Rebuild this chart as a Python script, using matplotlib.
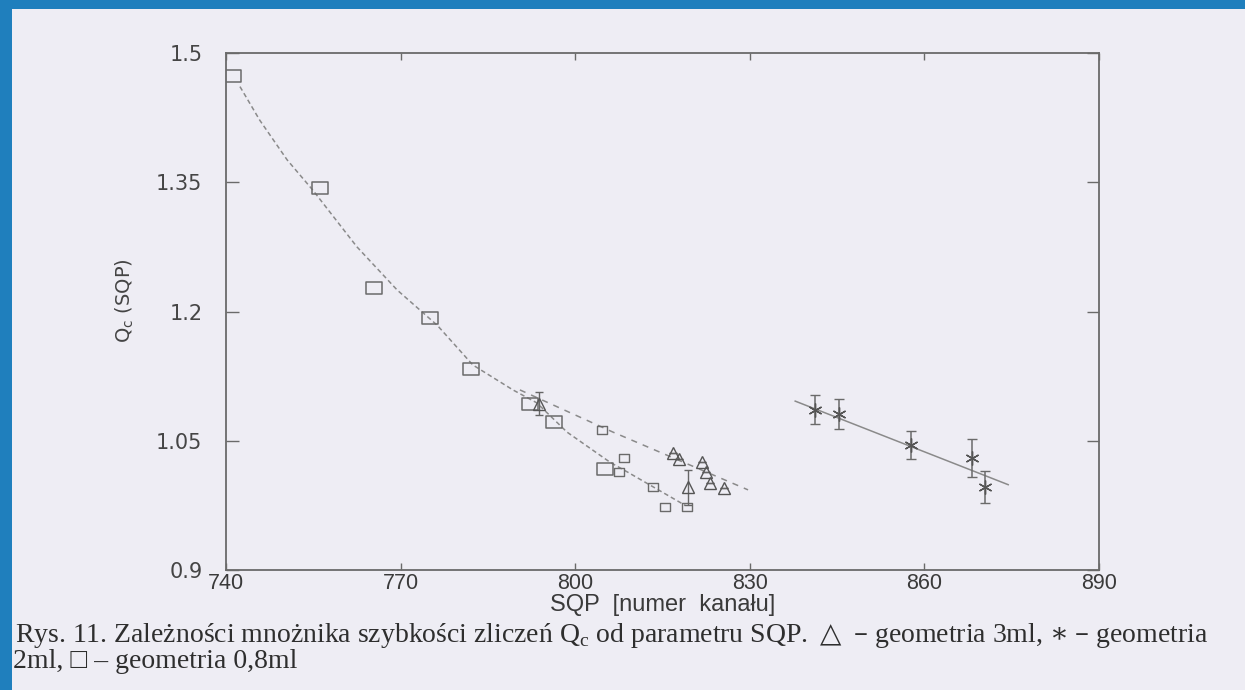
import matplotlib
matplotlib.use("Agg")
import matplotlib.pyplot as plt
from matplotlib.patches import Rectangle
from matplotlib.path import Path

# ---------------- data ----------------
# geometry 0.8 ml, large squares
sq_big_x = [741.2, 756.2, 765.4, 775.1, 782.1, 792.2, 796.3, 805.2]
sq_big_y = [1.473, 1.343, 1.227, 1.192, 1.133, 1.093, 1.072, 1.017]
# geometry 0.8 ml, small squares
sq_small_x = [804.6, 808.4, 807.5, 813.4, 815.4, 819.2]
sq_small_y = [1.062, 1.030, 1.014, 0.996, 0.973, 0.973]
# geometry 3 ml, triangles
tri_x = [793.8, 816.8, 817.8, 821.8, 822.5, 823.2, 825.6, 819.4]
tri_y = [1.093, 1.036, 1.029, 1.025, 1.014, 1.001, 0.995, 0.996]
tri_err = [0.0135, 0.0, 0.0, 0.0, 0.0, 0.0, 0.0, 0.020]
# geometry 2 ml, asterisks
star_x = [841.2, 845.3, 857.7, 868.2, 870.4]
star_y = [1.086, 1.081, 1.045, 1.030, 0.996]
star_err = [0.017, 0.017, 0.016, 0.0226, 0.0186]

# fitted curves
fit_sq_x = [742.4, 745.8, 750.5, 754.9, 762.5, 769.4, 776.3, 782.4, 789.3,
            793.4, 798.6, 806.0, 808.9, 818.9]
fit_sq_y = [1.461, 1.422, 1.376, 1.341, 1.275, 1.225, 1.184, 1.138, 1.109,
            1.094, 1.060, 1.025, 1.014, 0.975]
fit_tri_x = [790.5, 806.5, 829.7]
fit_tri_y = [1.109, 1.060, 0.993]
fit_star_x = [837.8, 874.4]
fit_star_y = [1.096, 0.999]

x_ticks = [740, 770, 800, 830, 860, 890]
y_ticks = [0.9, 1.05, 1.2, 1.35, 1.5]
y_tick_labels = ["0.9", "1.05", "1.2", "1.35", "1.5"]

x_label = "SQP  [numer  kanału]"
y_label = "Q$_\\mathregular{c}$ (SQP)"
caption1 = ("Rys. 11. Zależności mnożnika szybkości zliczeń Q$_\\mathregular{c}$ "
            "od parametru SQP. $\\triangle$ – geometria 3ml, $\\ast$ – geometria")
caption2 = "2ml, □ – geometria 0,8ml"

# ---------------- styling ----------------
W, H = 1245, 690
BG = "#eeedf4"
BLUE = "#1f7fbd"
GREY = "#6a6a6a"
LINE = "#8a8a8a"

plt.rcParams["mathtext.fontset"] = "dejavuserif"

fig = plt.figure(figsize=(W / 100, H / 100), dpi=100, facecolor=BG)
ax = fig.add_axes([226 / W, 1 - 570 / H, (1099 - 226) / W, (570 - 53) / H])
ax.set_facecolor(BG)

rect_marker = Path([(-1.3, -1), (1.3, -1), (1.3, 1), (-1.3, 1), (-1.3, -1)],
                   closed=True)

# lines
ax.plot(fit_sq_x, fit_sq_y, color=LINE, lw=1.1, dashes=(3, 2))
ax.plot(fit_tri_x, fit_tri_y, color=LINE, lw=1.1, dashes=(4, 4))
ax.plot(fit_star_x, fit_star_y, color=LINE, lw=1.1)

# squares
ax.plot(sq_big_x, sq_big_y, ls="none", marker=rect_marker, ms=11,
        mfc="none", mec=GREY, mew=1.1)
ax.plot(sq_small_x, sq_small_y, ls="none", marker=rect_marker, ms=7.5,
        mfc="none", mec=GREY, mew=1.0)

# triangles
ax.errorbar(tri_x, tri_y, yerr=tri_err, ls="none", marker="^", ms=8,
            mfc="none", mec="#555555", mew=1.0, ecolor="#666666",
            elinewidth=1.0, capsize=3)

# asterisks
ax.errorbar(star_x, star_y, yerr=star_err, ls="none", marker=(6, 2, 0),
            ms=10, mec="#555555", mew=1.0, ecolor="#6a6a6a",
            elinewidth=1.1, capsize=3.5)

ax.set_xlim(740, 890)
ax.set_ylim(0.9, 1.5)
ax.set_xticks(x_ticks)
ax.set_xticklabels([str(v) for v in x_ticks], family="Liberation Sans",
                   fontsize=15.5, color="#3a3a3a")
ax.set_yticks(y_ticks)
ax.set_yticklabels(y_tick_labels, family="DejaVu Sans", fontsize=15,
                   color="#454545")
ax.tick_params(axis="x", direction="in", length=5, width=1, color=GREY,
               top=True, pad=2)
ax.tick_params(axis="y", direction="in", length=9, width=1, color=GREY,
               right=True, pad=17)
for s in ax.spines.values():
    s.set_color(GREY)
    s.set_linewidth(1.3)

ax.set_xlabel(x_label, family="Liberation Sans", fontsize=17,
              color="#3a3a3a", labelpad=0)
ax.set_ylabel(y_label, family="DejaVu Sans", fontsize=14, color="#444444")
ax.yaxis.set_label_coords((135 - 226) / (1099 - 226), (570 - 301) / (570 - 53))

# caption
cap_family = ["Liberation Serif", "DejaVu Sans"]
t1 = fig.text(15 / W, 1 - 636 / H, caption1, family=cap_family, fontsize=15,
              color="#2e2e2e", va="center", ha="left")
t2 = fig.text(13 / W, 1 - 662 / H, caption2, family=cap_family, fontsize=15,
              color="#2e2e2e", va="center", ha="left")
renderer = fig.canvas.get_renderer()
w1 = t1.get_window_extent(renderer).width
scale = (1213 - 15) / w1
t1.set_fontsize(15 * scale)
t2.set_fontsize(15 * scale)

# blue frame strips
fig.patches.append(Rectangle((0, 1 - 9 / H), 1, 9 / H, transform=fig.transFigure,
                             facecolor=BLUE, edgecolor="none", zorder=10))
fig.patches.append(Rectangle((0, 0), 12 / W, 1, transform=fig.transFigure,
                             facecolor=BLUE, edgecolor="none", zorder=10))

fig.savefig("out.png", dpi=100, facecolor=BG)
